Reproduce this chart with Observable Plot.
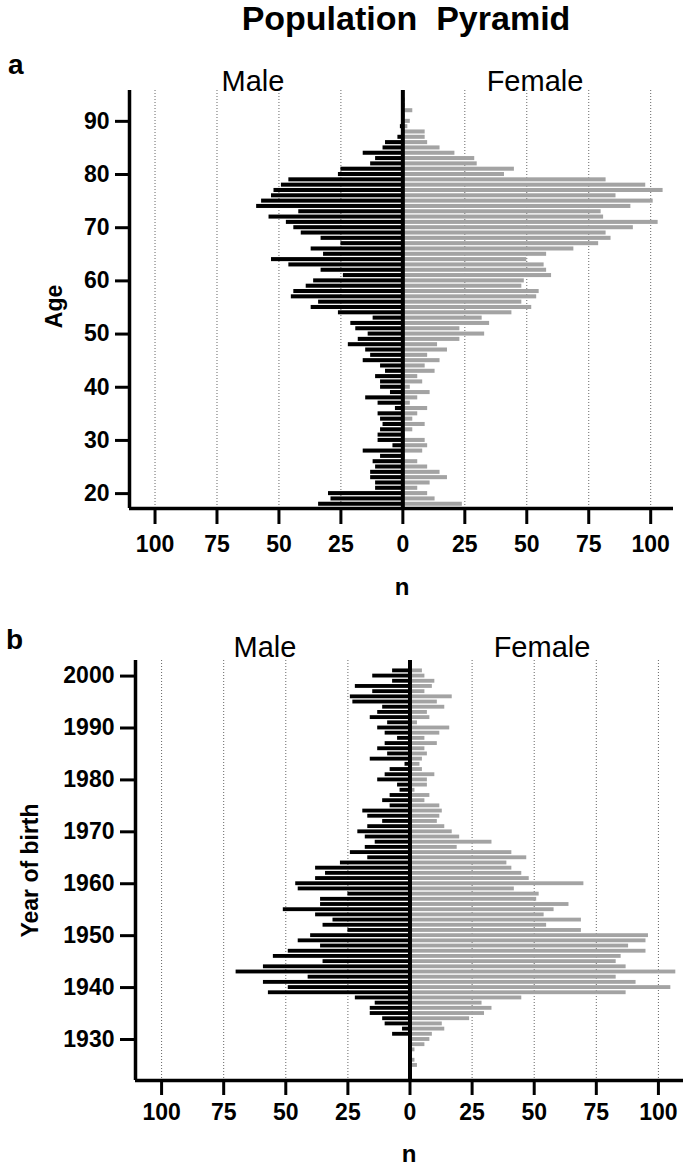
<!DOCTYPE html>
<html><head><meta charset="utf-8">
<script src="https://cdn.jsdelivr.net/npm/d3@7"></script>
<script src="https://cdn.jsdelivr.net/npm/@observablehq/plot@0.6"></script>
<style>
body{margin:0;background:#fff;}
#wrap{position:relative;width:685px;height:1169px;overflow:hidden;font-family:"Liberation Sans",Arial,sans-serif;color:#000;background:#fff}
.t{position:absolute;line-height:1;white-space:pre}
.box{position:absolute;left:0}
</style></head><body><div id="wrap"></div>
<script>
// ---- Panel a: age ----
const ages = [18,19,20,21,22,23,24,25,26,27,28,29,30,31,32,33,34,35,36,37,38,39,40,41,42,43,44,45,46,47,48,49,50,51,52,53,54,55,56,57,58,59,60,61,62,63,64,65,66,67,68,69,70,71,72,73,74,75,76,77,78,79,80,81,82,83,84,85,86,87,88,89,90,91,92,93,94,95];
const maleByAge = [34,29,
  30,11,11,13,13,11,12,9,16,4,
  10,10,9,8,9,10,3,10,15,5,
  9,9,11,7,9,16,13,15,22,18,
  14,19,21,12,26,37,34,45,44,39,
  36,24,33,46,53,32,37,25,33,41,
  44,47,54,42,59,57,53,52,49,46,
  26,25,13,11,16,8,7,2,0,1,
  0,0,0,0,0,0];
const femaleByAge = [24,13,
  10,6,11,18,15,10,6,1,8,10,
  9,1,4,9,4,6,10,3,6,11,
  3,8,6,13,9,15,10,18,14,23,
  33,23,35,32,44,52,48,54,55,48,
  49,60,58,57,50,58,69,79,84,82,
  93,103,81,80,92,101,86,105,98,82,
  41,45,30,29,21,15,10,9,9,2,
  3,1,4,1,1,0];
const ageTicks = [20,30,40,50,60,70,80,90];

// ---- Panel b: year of birth ----
const years = [1925,1926,1927,1928,1929,1930,1931,1932,1933,1934,1935,1936,1937,1938,1939,1940,1941,1942,1943,1944,1945,1946,1947,1948,1949,1950,1951,1952,1953,1954,1955,1956,1957,1958,1959,1960,1961,1962,1963,1964,1965,1966,1967,1968,1969,1970,1971,1972,1973,1974,1975,1976,1977,1978,1979,1980,1981,1982,1983,1984,1985,1986,1987,1988,1989,1990,1991,1992,1993,1994,1995,1996,1997,1998,1999,2000,2001];
const maleByYear = [0,0,0,0,0,
  0,7,3,10,11,16,16,14,22,57,
  49,59,41,70,59,35,55,49,36,45,
  40,25,35,31,38,51,36,36,25,45,
  46,38,34,38,28,17,24,18,14,18,
  21,17,11,17,19,8,11,8,4,5,
  13,10,8,2,16,9,13,10,5,10,
  13,9,16,13,11,23,24,15,22,7,
  15,7];
const femaleByYear = [3,2,0,2,6,
  8,9,14,13,24,30,33,29,45,87,
  105,91,83,107,87,83,85,95,88,95,
  96,69,55,69,54,58,64,51,52,42,
  70,48,45,41,39,47,41,19,33,20,
  17,14,11,12,13,12,6,8,2,7,
  7,10,5,4,5,7,6,11,6,12,
  16,3,8,7,14,11,17,6,9,10,
  6,5];
const yearTicks = [1930,1940,1950,1960,1970,1980,1990,2000];

const nTicks = [-100,-75,-50,-25,0,25,50,75,100];
const gridTicks = [-100,-75,-50,-25,25,50,75,100];

const FONT = '"Liberation Sans", Arial, sans-serif';
const MALE = "#000000", FEMALE = "#a3a3a3";

function pyramid({cats, male, female, xDomain, yDomain, yTicks, top, height, mt, mb, ml, mr, ytSize, ytPad, xtSize, xtPad, half}) {
  const rows = cats.map((c, i) => ({c, m: male[i], f: female[i]}));
  const svg = Plot.plot({
    width: 685, height,
    marginTop: mt, marginBottom: mb, marginLeft: ml, marginRight: mr,
    style: {fontFamily: FONT, background: "transparent", overflow: "visible"},
    x: {domain: xDomain},
    y: {domain: yDomain},
    marks: [
      Plot.ruleX(gridTicks, {stroke: "#666", strokeWidth: 1, strokeDasharray: "1,2"}),
      Plot.rect(rows, {x1: d => -d.m, x2: 0, y1: d => d.c - half, y2: d => d.c + half, fill: MALE}),
      Plot.rect(rows, {x1: 0, x2: d => d.f, y1: d => d.c - half, y2: d => d.c + half, fill: FEMALE}),
      Plot.ruleX([0], {stroke: "#000", strokeWidth: 4}),
      Plot.ruleX([xDomain[0]], {stroke: "#000", strokeWidth: 3.5}),
      Plot.ruleY([yDomain[0]], {stroke: "#000", strokeWidth: 3.5}),
      Plot.axisY(yTicks, {tickSize: ytSize, tickPadding: ytPad, strokeWidth: 3, fontSize: 23, fontWeight: "bold", label: null, tickFormat: d => String(d)}),
      Plot.axisX(nTicks, {tickSize: xtSize, tickPadding: xtPad, strokeWidth: 3, fontSize: 23, fontWeight: "bold", label: null, tickFormat: d => String(Math.abs(d))})
    ]
  });
  const box = document.createElement("div");
  box.className = "box";
  box.style.top = top + "px";
  box.appendChild(svg);
  return box;
}

const wrap = document.getElementById("wrap");
wrap.appendChild(pyramid({cats: ages, male: maleByAge, female: femaleByAge,
  xDomain: [-110.3, 109.2], yDomain: [17.2, 95.8], yTicks: ageTicks,
  top: 0, height: 600, mt: 90, mb: 92, ml: 129, mr: 12, ytSize: 14, ytPad: 6, xtSize: 16, xtPad: 11, half: 0.38}));
wrap.appendChild(pyramid({cats: years, male: maleByYear, female: femaleByYear,
  xDomain: [-110.5, 110.1], yDomain: [1922.1, 2003], yTicks: yearTicks,
  top: 600, height: 569, mt: 60, mb: 89, ml: 135, mr: 2, ytSize: 15, ytPad: 6, xtSize: 15, xtPad: 8, half: 0.37}));

function label(text, x, baseline, size, weight, anchor, rotate) {
  const d = document.createElement("div");
  d.className = "t";
  d.textContent = text;
  d.style.fontSize = size + "px";
  d.style.fontWeight = weight;
  if (rotate) {
    d.style.left = (x - 200) + "px";
    d.style.top = (baseline - size / 2) + "px";
    d.style.width = "400px";
    d.style.textAlign = "center";
    d.style.transform = "rotate(-90deg)";
  } else {
    const w = 600;
    d.style.width = w + "px";
    d.style.top = (baseline - 0.8465 * size) + "px";
    if (anchor === "middle") { d.style.left = (x - w / 2) + "px"; d.style.textAlign = "center"; }
    else { d.style.left = x + "px"; d.style.textAlign = "left"; }
  }
  wrap.appendChild(d);
}
label("Population  Pyramid", 406, 30, 34, "bold", "middle");
label("a", 8, 75, 28, "bold", "start");
label("Male", 253, 92, 29, "normal", "middle");
label("Female", 535, 92, 29, "normal", "middle");
label("Age", 54, 306, 23, "bold", "middle", true);
label("n", 402, 595, 24, "bold", "middle");
label("b", 6, 650, 28, "bold", "start");
label("Male", 265, 658, 29, "normal", "middle");
label("Female", 542, 658, 29, "normal", "middle");
label("Year of birth", 30, 870, 23, "bold", "middle", true);
label("n", 409, 1162, 24, "bold", "middle");
</script></body></html>
